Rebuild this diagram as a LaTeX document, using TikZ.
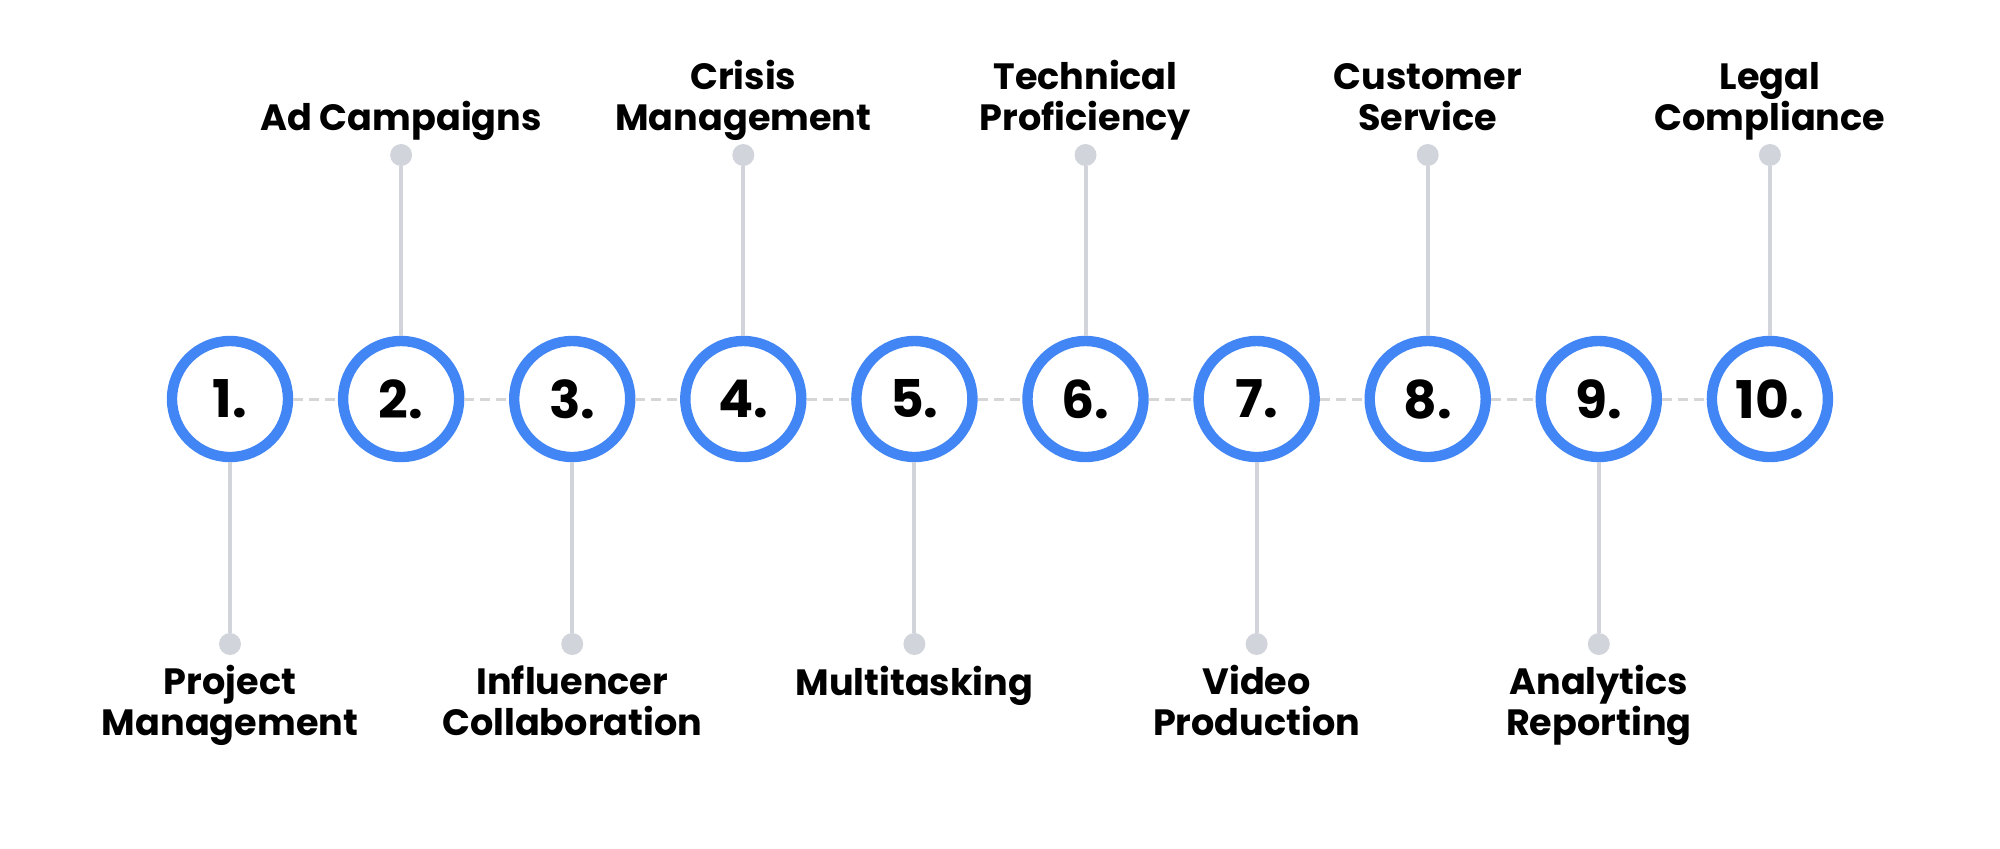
\documentclass[tikz,border=0pt]{standalone}
\usepackage{fontspec}
\setmainfont{Poppins}
\definecolor{ringblue}{HTML}{4285F4}
\definecolor{stemgray}{HTML}{D1D5DB}
\definecolor{dashgray}{HTML}{D6D6D6}
\tikzset{
  ring/.style={circle, draw=ringblue, fill=white, line width=5.2pt, minimum size=58pt, inner sep=0pt,
    font=\fontsize{26}{30}\selectfont\bfseries},
  dot/.style={circle, fill=stemgray, minimum size=11pt, inner sep=0pt},
  lbl/.style={align=center, anchor=base, inner sep=0pt, font=\fontsize{18.3}{20.3}\selectfont\bfseries},
  link/.style={draw=dashgray, line width=1.5pt, dash pattern=on 5pt off 3pt},
  stem/.style={draw=stemgray, line width=2pt}
}
\begin{document}
\begin{tikzpicture}[x=0.5pt,y=-0.5pt]
    \newcommand{\xorig}{230}
    \newcommand{\xstep}{171.1}
    \newcommand{\ymid}{399}
    \newcommand{\ytop}{155}
    \newcommand{\ybot}{644}

    \useasboundingbox (0,0) rectangle (2000,848);

    % circles
    \node[ring] (c1) at (\xorig+0*\xstep,\ymid) {1.};
    \node[ring] (c2) at (\xorig+1*\xstep,\ymid) {2.};
    \node[ring] (c3) at (\xorig+2*\xstep,\ymid) {3.};
    \node[ring] (c4) at (\xorig+3*\xstep,\ymid) {4.};
    \node[ring] (c5) at (\xorig+4*\xstep,\ymid) {5.};
    \node[ring] (c6) at (\xorig+5*\xstep,\ymid) {6.};
    \node[ring] (c7) at (\xorig+6*\xstep,\ymid) {7.};
    \node[ring] (c8) at (\xorig+7*\xstep,\ymid) {8.};
    \node[ring] (c9) at (\xorig+8*\xstep,\ymid) {9.};
    \node[ring] (c10) at (\xorig+9*\xstep,\ymid) {10.};

    % dots
    \node[dot] (d1) at (\xorig+0*\xstep,\ybot) {};
    \node[dot] (d2) at (\xorig+1*\xstep,\ytop) {};
    \node[dot] (d3) at (\xorig+2*\xstep,\ybot) {};
    \node[dot] (d4) at (\xorig+3*\xstep,\ytop) {};
    \node[dot] (d5) at (\xorig+4*\xstep,\ybot) {};
    \node[dot] (d6) at (\xorig+5*\xstep,\ytop) {};
    \node[dot] (d7) at (\xorig+6*\xstep,\ybot) {};
    \node[dot] (d8) at (\xorig+7*\xstep,\ytop) {};
    \node[dot] (d9) at (\xorig+8*\xstep,\ybot) {};
    \node[dot] (d10) at (\xorig+9*\xstep,\ytop) {};

    % labels (base = last line)
    \node[lbl] (l1) at (\xorig+0*\xstep,735) {Project\\Management};
    \node[lbl] (l2) at (\xorig+1*\xstep,130) {Ad Campaigns};
    \node[lbl] (l3) at (\xorig+2*\xstep,735) {Influencer\\Collaboration};
    \node[lbl] (l4) at (\xorig+3*\xstep,130) {Crisis\\Management};
    \node[lbl] (l5) at (\xorig+4*\xstep,695) {Multitasking};
    \node[lbl] (l6) at (\xorig+5*\xstep,130) {Technical\\Proficiency};
    \node[lbl] (l7) at (\xorig+6*\xstep,735) {Video\\Production};
    \node[lbl] (l8) at (\xorig+7*\xstep,130) {Customer\\Service};
    \node[lbl] (l9) at (\xorig+8*\xstep,735) {Analytics\\Reporting};
    \node[lbl] (l10) at (\xorig+9*\xstep,130) {Legal\\Compliance};

    % dashed links
    \draw[link] (c1) -- (c2);
    \draw[link] (c2) -- (c3);
    \draw[link] (c3) -- (c4);
    \draw[link] (c4) -- (c5);
    \draw[link] (c5) -- (c6);
    \draw[link] (c6) -- (c7);
    \draw[link] (c7) -- (c8);
    \draw[link] (c8) -- (c9);
    \draw[link] (c9) -- (c10);

    % stems
    \draw[stem] (c1) -- (d1);
    \draw[stem] (c2) -- (d2);
    \draw[stem] (c3) -- (d3);
    \draw[stem] (c4) -- (d4);
    \draw[stem] (c5) -- (d5);
    \draw[stem] (c6) -- (d6);
    \draw[stem] (c7) -- (d7);
    \draw[stem] (c8) -- (d8);
    \draw[stem] (c9) -- (d9);
    \draw[stem] (c10) -- (d10);
\end{tikzpicture}
\end{document}
